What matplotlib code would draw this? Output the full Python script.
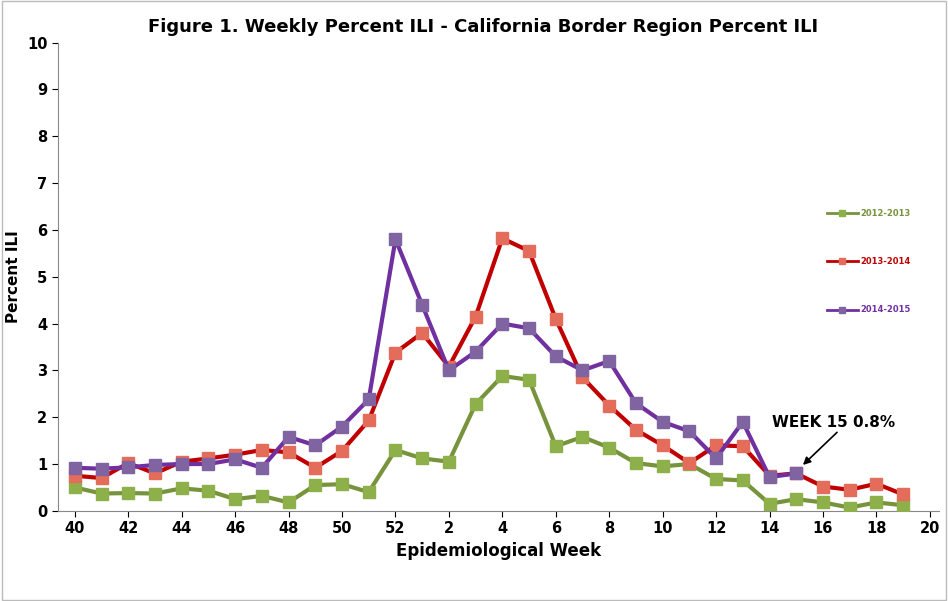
import matplotlib.pyplot as plt
import numpy as np

weeks = [40, 41, 42, 43, 44, 45, 46, 47, 48, 49, 50, 51, 52] + list(range(1, 20))
s2012 = [0.5, 0.37, 0.38, 0.37, 0.48, 0.43, 0.25, 0.32, 0.18, 0.55, 0.57, 0.4, 1.3,
         1.12, 1.05, 2.28, 2.88, 2.8, 1.38, 1.58, 1.35, 1.02, 0.95, 1.0, 0.68, 0.65,
         0.15, 0.25, 0.18, 0.07, 0.18, 0.12]
s2013 = [0.75, 0.7, 1.02, 0.8, 1.05, 1.12, 1.2, 1.3, 1.25, 0.92, 1.28, 1.93, 3.38,
         3.8, 3.08, 4.15, 5.82, 5.55, 4.1, 2.85, 2.25, 1.73, 1.4, 1.02, 1.4, 1.38,
         0.75, 0.8, 0.52, 0.45, 0.58, 0.35]
s2014 = [0.92, 0.9, 0.93, 0.98, 1.0, 1.0, 1.1, 0.92, 1.58, 1.4, 1.8, 2.38, 5.8,
         4.4, 3.0, 3.4, 4.0, 3.9, 3.3, 3.0, 3.2, 2.3, 1.9, 1.7, 1.12, 1.9, 0.72, 0.8]
tick_labels = ["40", "42", "44", "46", "48", "50", "52", "2", "4", "6", "8",
               "10", "12", "14", "16", "18", "20"]


def main():
    fig = plt.figure(figsize=(9.48, 6.01), dpi=100)
    fig.patches.append(plt.Rectangle((0.002, 0.002), 0.996, 0.996, transform=fig.transFigure,
                                     fill=False, ec="#bbbbbb", lw=1))
    ax = fig.add_axes([0.061, 0.15, 0.93, 0.779])

    series = [
        ("2012-2013", s2012, "#77933C", "#8DB04A"),
        ("2013-2014", s2013, "#C00000", "#E46C5A"),
        ("2014-2015", s2014, "#7030A0", "#8064A2"),
    ]
    for name, vals, lc, mc in series:
        x = np.arange(len(vals))
        ax.plot(x, vals, color=lc, lw=3, marker="s", ms=9, mfc=mc, mec=mc, zorder=3)

    ax.set_xlim(-0.636, 32.36)
    ax.set_ylim(0, 10)
    ax.set_xticks(np.arange(0, 33, 2))
    ax.set_xticklabels(tick_labels)
    ax.set_yticks(range(11))
    ax.tick_params(labelsize=10.5, length=4, direction="out")
    for lab in ax.get_xticklabels() + ax.get_yticklabels():
        lab.set_fontweight("bold")
    for s in ["top", "right"]:
        ax.spines[s].set_visible(False)
    ax.spines["left"].set_color("#888888")
    ax.spines["bottom"].set_color("#888888")

    ax.set_xlabel("Epidemiological Week", fontsize=12, fontweight="bold")
    ax.set_ylabel("Percent ILI", fontsize=11, fontweight="bold")
    fig.text(0.51, 0.955, "Figure 1. Weekly Percent ILI - California Border Region Percent ILI",
             ha="center", va="center", fontsize=13, fontweight="bold")

    # legend
    for i, (name, vals, lc, mc) in enumerate(series):
        y = 0.645 - i * 0.08
        fig.add_artist(plt.Line2D([0.872, 0.8885, 0.905], [y, y, y], transform=fig.transFigure,
                                  color=lc, lw=2, marker="s", ms=4, mfc=mc, mec=mc,
                                  markevery=[1]))
        fig.text(0.908, y, name, color=lc, fontsize=6, fontweight="bold", va="center")

    ax.annotate("WEEK 15 0.8%", xy=(27.25, 0.98), xytext=(26.1, 1.8),
                fontsize=11, fontweight="bold",
                arrowprops=dict(arrowstyle="-|>", color="black", lw=1.2,
                                shrinkA=0, shrinkB=0, relpos=(0.55, 0)))

    fig.savefig("out.png", dpi=100)
    plt.close()


if __name__ == "__main__":
    main()
